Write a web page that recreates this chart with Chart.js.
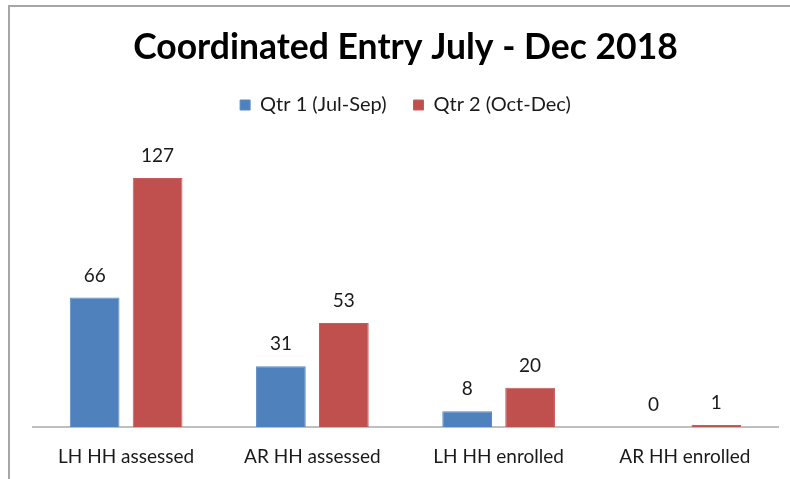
<!DOCTYPE html>
<html>
<head>
<meta charset="utf-8">
<script src="https://cdn.jsdelivr.net/npm/chart.js@4.4.1/dist/chart.umd.min.js"></script>
<style>
  html, body { margin: 0; padding: 0; background: #fff; }
  #wrap { position: relative; width: 790px; height: 479px; overflow: hidden; }
  #frame { position: absolute; left: 8px; top: 5px; width: 800px; height: 500px;
           border-top: 2px solid #a6a6a6; border-left: 2px solid #a6a6a6; }
  canvas { position: absolute; left: 0; top: 0; }
</style>
</head>
<body>
<div id="wrap">
  <div id="frame"></div>
  <canvas id="c" width="790" height="479"></canvas>
</div>
<script>
const categories = ['LH HH assessed', 'AR HH assessed', 'LH HH enrolled', 'AR HH enrolled'];
const qtr1Values = [66, 31, 8, 0];
const qtr2Values = [127, 53, 20, 1];
const seriesNames = ['Qtr 1 (Jul-Sep)', 'Qtr 2 (Oct-Dec)'];
const titleText = 'Coordinated Entry July - Dec 2018';

const FONT = 'Lato';
const TEXT = '#1a1a1a';

const valueLabels = {
  id: 'valueLabels',
  afterDatasetsDraw(chart) {
    const ctx = chart.ctx;
    ctx.save();
    ctx.font = '19px ' + FONT;
    ctx.fillStyle = TEXT;
    ctx.textAlign = 'center';
    ctx.textBaseline = 'middle';
    chart.data.datasets.forEach((ds, i) => {
      const meta = chart.getDatasetMeta(i);
      meta.data.forEach((bar, j) => {
        ctx.fillText(String(ds.data[j]), bar.x, bar.y - 22);
      });
    });
    ctx.restore();
  }
};

new Chart(document.getElementById('c'), {
  type: 'bar',
  data: {
    labels: categories,
    datasets: [
      { label: seriesNames[0], data: qtr1Values, backgroundColor: '#4f81bd', borderColor: '#5a8ac4', borderWidth: 1,
        categoryPercentage: 0.676, barPercentage: 0.79 },
      { label: seriesNames[1], data: qtr2Values, backgroundColor: '#c0504d', borderColor: '#c85c59', borderWidth: 1,
        categoryPercentage: 0.676, barPercentage: 0.79 }
    ]
  },
  options: {
    responsive: false,
    animation: false,
    devicePixelRatio: 1,
    layout: { padding: { left: 33, right: 12, top: 0, bottom: 0 } },
    plugins: {
      title: {
        display: true, text: titleText, color: '#000',
        font: { family: FONT, size: 35.5, weight: 'bold', lineHeight: 1.2 },
        padding: { top: 26.7, bottom: -1.3 }
      },
      legend: {
        display: true, position: 'top',
        labels: { color: TEXT, font: { family: FONT, size: 20, lineHeight: 1.2 }, boxWidth: 10, boxHeight: 10, padding: 27 }
      },
      tooltip: { enabled: false }
    },
    scales: {
      x: {
        grid: { display: false, drawTicks: false },
        border: { display: true, color: '#bfbfbf', width: 2 },
        ticks: { color: TEXT, font: { family: FONT, size: 19 }, padding: 18 },
        afterFit(scale) { scale.height = 52; }
      },
      y: {
        display: false, min: 0, max: 154
      }
    }
  },
  plugins: [valueLabels]
});
</script>
</body>
</html>
